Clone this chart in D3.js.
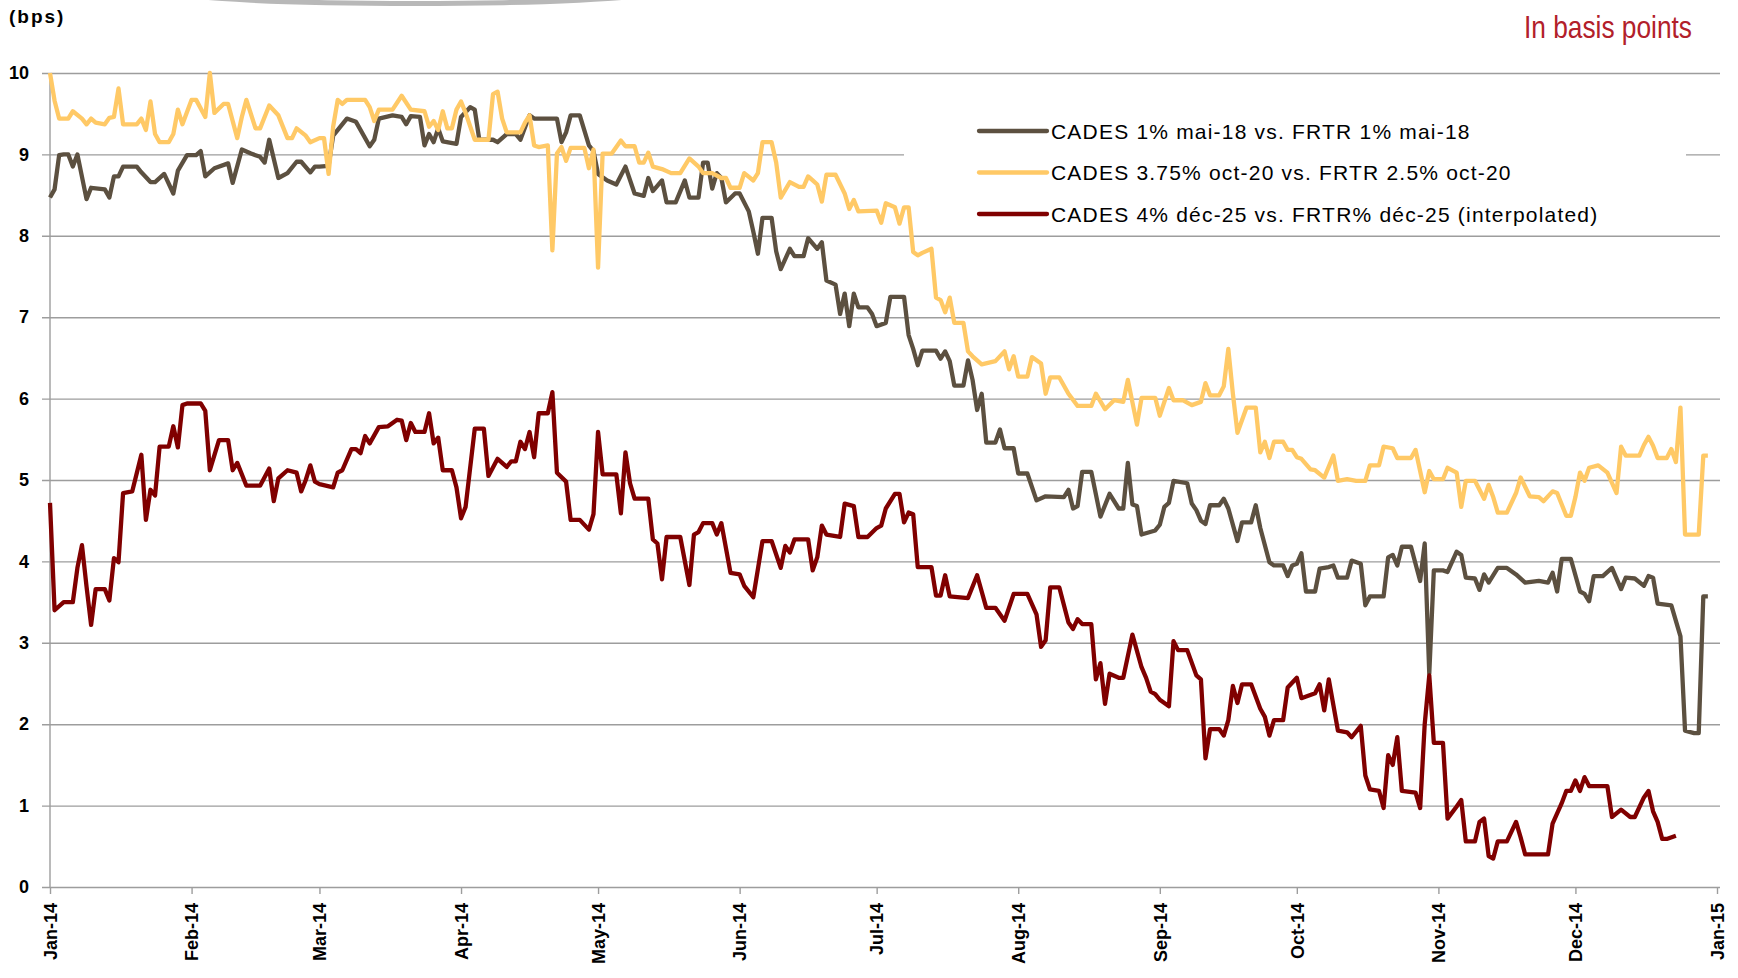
<!DOCTYPE html>
<html>
<head>
<meta charset="utf-8">
<script src="https://cdn.jsdelivr.net/npm/d3@7"></script>
<style>
  body { margin: 0; background: #ffffff; }
  svg  { display: block; font-family: "Liberation Sans", Arial, sans-serif; }
</style>
</head>
<body>
<div id="chart"></div>
<script>
/////////////////////////////////////////////////////
/////////////////////// Data ////////////////////////
/////////////////////////////////////////////////////

// Each point is [day of 2014 (0 = 1 Jan), spread in bps].
const spreadMai18 = [
  [0,8.47],[1,8.57],[2,8.99],[3,9.0],[4,9.0],[5,8.85],[6,9.0],[8,8.45],[9,8.59],[12,8.57],[13,8.47],[14,8.73],
  [15,8.73],[16,8.85],[19,8.85],[20,8.78],[22,8.66],[23,8.66],[25,8.76],[27,8.52],[28,8.8],[30,8.99],[32,8.99],
  [33,9.04],[34,8.73],[36,8.83],[39,8.89],[40,8.65],[42,9.06],[44,9.01],[46,8.97],[47,8.9],[48,9.18],[50,8.71],
  [52,8.77],[54,8.91],[55,8.91],[57,8.78],[58,8.85],[59,8.85],[61,8.86],[62,9.23],[65,9.44],[67,9.4],[70,9.1],
  [71,9.18],[72,9.44],[75,9.48],[77,9.46],[78,9.37],[79,9.47],[81,9.46],[82,9.11],[83,9.25],[84,9.15],[85,9.32],
  [86,9.16],[89,9.13],[90,9.46],[92,9.58],[93,9.55],[94,9.18],[97,9.18],[98,9.15],[100,9.25],[102,9.25],[103,9.18],
  [105,9.48],[106,9.44],[111,9.44],[112,9.15],[113,9.27],[114,9.48],[116,9.48],[118,9.11],[119,9.04],[120,8.76],
  [122,8.68],[124,8.63],[126,8.85],[128,8.52],[130,8.49],[131,8.71],[132,8.55],[134,8.68],[135,8.41],[137,8.41],
  [139,8.68],[140,8.47],[142,8.47],[143,8.9],[144,8.9],[145,8.58],[146,8.77],[147,8.71],[148,8.41],[150,8.52],
  [151,8.52],[153,8.3],[154,8.05],[155,7.78],[156,8.22],[158,8.22],[159,7.81],[160,7.59],[162,7.84],[163,7.75],
  [165,7.75],[166,7.97],[168,7.84],[169,7.92],[170,7.45],[172,7.4],[173,7.04],[174,7.29],[175,6.89],[176,7.29],
  [177,7.12],[179,7.12],[180,7.04],[181,6.89],[183,6.93],[184,7.25],[187,7.25],[188,6.78],[189,6.61],[190,6.41],
  [191,6.59],[194,6.59],[195,6.49],[196,6.58],[197,6.46],[198,6.16],[200,6.16],[201,6.47],[202,6.23],[203,5.86],
  [204,6.06],[205,5.46],[207,5.46],[208,5.62],[209,5.39],[211,5.39],[212,5.08],[214,5.08],[216,4.75],[218,4.8],
  [222,4.79],[223,4.88],[224,4.65],[225,4.68],[226,5.1],[228,5.1],[230,4.55],[232,4.83],[234,4.65],[235,4.65],
  [236,5.21],[237,4.7],[238,4.68],[239,4.33],[242,4.38],[243,4.45],[244,4.67],[245,4.72],[246,4.99],[249,4.96],
  [250,4.71],[251,4.63],[252,4.5],[253,4.46],[254,4.69],[256,4.69],[257,4.77],[258,4.65],[260,4.25],[261,4.48],
  [263,4.48],[264,4.69],[265,4.41],[267,3.99],[268,3.95],[270,3.95],[271,3.82],[272,3.95],[273,3.97],[274,4.1],
  [275,3.63],[277,3.63],[278,3.91],[280,3.93],[281,3.95],[282,3.8],[284,3.8],[285,4.01],[287,3.97],[288,3.46],
  [289,3.57],[292,3.57],[293,4.05],[294,4.08],[295,3.95],[296,4.18],[298,4.18],[300,3.76],[301,4.22],[302,2.62],
  [303,3.89],[305,3.89],[306,3.87],[308,4.12],[309,4.08],[310,3.8],[312,3.79],[313,3.65],[314,3.84],[315,3.74],
  [317,3.92],[319,3.92],[321,3.84],[323,3.74],[326,3.76],[328,3.74],[329,3.86],[330,3.63],[331,4.03],[333,4.03],
  [335,3.63],[336,3.6],[337,3.51],[338,3.82],[340,3.82],[342,3.92],[344,3.66],[345,3.8],[347,3.79],[349,3.7],
  [350,3.82],[351,3.8],[352,3.48],[355,3.46],[356,3.27],[357,3.08],[358,1.92],[360,1.89],[361,1.89],[362,3.57],
  [363,3.57]
];

const spreadOct20 = [
  [0,10.0],[1,9.66],[2,9.44],[4,9.44],[5,9.53],[7,9.44],[8,9.37],[9,9.44],[10,9.39],[12,9.37],[13,9.45],[14,9.46],
  [15,9.81],[16,9.37],[19,9.37],[20,9.44],[21,9.3],[22,9.65],[23,9.25],[24,9.15],[26,9.15],[27,9.25],[28,9.55],
  [29,9.37],[31,9.67],[32,9.67],[34,9.46],[35,10.0],[36,9.51],[38,9.62],[39,9.62],[41,9.2],[42,9.46],[43,9.67],
  [45,9.32],[46,9.32],[48,9.6],[50,9.48],[52,9.2],[53,9.2],[54,9.32],[56,9.23],[57,9.15],[59,9.2],[60,9.2],
  [61,8.76],[62,9.34],[63,9.67],[64,9.62],[65,9.67],[69,9.67],[70,9.58],[71,9.41],[72,9.55],[75,9.55],[77,9.72],
  [79,9.55],[82,9.53],[83,9.34],[84,9.41],[85,9.3],[86,9.53],[87,9.32],[88,9.32],[89,9.55],[90,9.65],[91,9.51],
  [93,9.18],[96,9.18],[97,9.74],[98,9.77],[99,9.44],[100,9.27],[103,9.27],[104,9.39],[105,9.48],[106,9.11],
  [107,9.09],[109,9.11],[110,7.82],[111,9.01],[112,9.09],[113,8.92],[114,9.08],[117,9.08],[118,8.83],[119,9.06],
  [120,7.61],[121,9.01],[123,9.01],[125,9.17],[126,9.1],[128,9.1],[129,8.9],[130,8.9],[131,9.02],[132,8.85],
  [134,8.82],[136,8.77],[138,8.77],[140,8.95],[142,8.85],[143,8.77],[145,8.77],[147,8.71],[148,8.71],[149,8.59],
  [151,8.59],[152,8.77],[154,8.68],[155,8.77],[156,9.15],[158,9.15],[159,8.9],[160,8.47],[162,8.66],[164,8.6],
  [165,8.6],[166,8.73],[167,8.68],[168,8.63],[169,8.42],[170,8.75],[172,8.75],[174,8.52],[175,8.33],[176,8.44],
  [177,8.3],[181,8.31],[182,8.16],[183,8.4],[185,8.35],[186,8.15],[187,8.35],[188,8.35],[189,7.8],[190,7.76],
  [191,7.79],[193,7.84],[194,7.24],[195,7.21],[196,7.06],[197,7.24],[198,6.93],[200,6.93],[201,6.58],[202,6.52],
  [204,6.42],[207,6.46],[209,6.58],[210,6.36],[211,6.52],[212,6.27],[214,6.27],[215,6.51],[217,6.43],[218,6.06],
  [219,6.26],[221,6.26],[223,6.06],[225,5.91],[228,5.91],[229,6.06],[231,5.87],[233,5.98],[235,5.96],[236,6.23],
  [238,5.68],[239,6.01],[242,6.01],[243,5.79],[245,6.13],[246,5.98],[248,5.98],[250,5.92],[252,5.96],[253,6.19],
  [254,6.04],[256,6.04],[257,6.15],[258,6.61],[259,6.06],[260,5.58],[262,5.89],[264,5.89],[265,5.34],[266,5.47],
  [267,5.27],[268,5.47],[270,5.47],[271,5.37],[272,5.37],[273,5.28],[274,5.26],[276,5.13],[277,5.12],[279,5.03],
  [281,5.3],[282,4.99],[284,5.01],[286,4.99],[288,4.99],[289,5.18],[291,5.18],[292,5.41],[294,5.39],[295,5.27],
  [298,5.27],[299,5.37],[300,5.11],[301,4.85],[302,5.11],[303,5.01],[305,5.01],[306,5.15],[308,5.09],[309,4.67],
  [310,4.99],[312,4.99],[313,4.88],[314,4.77],[315,4.94],[316,4.79],[317,4.6],[319,4.6],[321,4.84],[322,5.03],
  [324,4.8],[326,4.79],[327,4.74],[329,4.86],[330,4.84],[332,4.56],[333,4.56],[334,4.79],[335,5.09],[336,4.99],
  [337,5.15],[339,5.18],[341,5.09],[343,4.84],[344,5.41],[345,5.3],[348,5.3],[349,5.43],[350,5.53],[351,5.42],
  [352,5.27],[354,5.27],[355,5.38],[356,5.22],[357,5.89],[358,4.33],[361,4.33],[362,5.3],[363,5.3]
];

const spreadDec25 = [
  [0,4.72],[1,3.4],[3,3.5],[5,3.5],[6,3.92],[7,4.2],[8,3.69],[9,3.22],[10,3.66],[12,3.66],[13,3.52],[14,4.04],
  [15,3.99],[16,4.84],[18,4.86],[20,5.31],[21,4.51],[22,4.88],[23,4.81],[24,5.41],[26,5.41],[27,5.66],[28,5.4],
  [29,5.92],[30,5.94],[33,5.94],[34,5.85],[35,5.12],[37,5.49],[39,5.49],[40,5.12],[41,5.21],[43,4.93],[46,4.93],
  [48,5.14],[49,4.74],[50,5.02],[52,5.12],[54,5.09],[55,4.86],[56,5.0],[57,5.18],[58,4.98],[59,4.95],[62,4.91],
  [63,5.09],[64,5.12],[66,5.38],[67,5.38],[68,5.33],[69,5.54],[70,5.45],[72,5.65],[74,5.66],[76,5.74],[77,5.73],
  [78,5.49],[79,5.7],[80,5.59],[82,5.59],[83,5.82],[84,5.45],[85,5.52],[86,5.12],[88,5.12],[89,4.91],[90,4.53],
  [91,4.67],[93,5.63],[95,5.63],[96,5.05],[98,5.26],[100,5.16],[101,5.23],[102,5.23],[103,5.47],[104,5.38],
  [105,5.59],[106,5.28],[107,5.82],[109,5.82],[110,6.08],[111,5.09],[113,4.98],[114,4.51],[116,4.51],[118,4.39],
  [119,4.58],[120,5.59],[121,5.07],[124,5.07],[125,4.59],[126,5.34],[127,4.96],[128,4.77],[131,4.77],[132,4.27],
  [133,4.22],[134,3.78],[135,4.3],[138,4.3],[140,3.71],[141,4.33],[142,4.36],[143,4.47],[145,4.47],[146,4.33],
  [147,4.47],[149,3.86],[151,3.84],[152,3.7],[154,3.56],[156,4.25],[158,4.25],[160,3.92],[161,4.19],[162,4.11],
  [163,4.27],[166,4.27],[167,3.89],[168,4.05],[169,4.44],[170,4.33],[173,4.3],[174,4.71],[176,4.68],[177,4.3],
  [179,4.3],[181,4.41],[182,4.44],[183,4.65],[185,4.83],[186,4.83],[187,4.48],[188,4.6],[189,4.58],[190,3.93],
  [193,3.93],[194,3.58],[195,3.58],[196,3.83],[197,3.57],[201,3.55],[203,3.83],[205,3.43],[207,3.43],[209,3.27],
  [211,3.6],[214,3.6],[216,3.35],[217,2.95],[218,3.03],[219,3.68],[221,3.68],[223,3.25],[224,3.17],[225,3.29],
  [226,3.23],[228,3.23],[229,2.55],[230,2.75],[231,2.25],[232,2.62],[234,2.57],[235,2.57],[237,3.1],[239,2.7],
  [240,2.57],[241,2.4],[242,2.37],[243,2.3],[244,2.26],[245,2.22],[246,3.02],[247,2.91],[249,2.91],[251,2.6],
  [252,2.55],[253,1.58],[254,1.94],[256,1.94],[257,1.86],[258,2.05],[259,2.47],[260,2.26],[261,2.49],[263,2.49],
  [265,2.19],[266,2.09],[267,1.86],[268,2.05],[270,2.05],[271,2.45],[273,2.57],[274,2.32],[277,2.38],[278,2.49],
  [279,2.17],[280,2.55],[282,1.92],[284,1.9],[285,1.84],[287,1.98],[288,1.37],[289,1.2],[291,1.18],[292,0.97],
  [293,1.62],[294,1.5],[295,1.84],[296,1.18],[299,1.16],[300,0.97],[301,2.0],[302,2.6],[303,1.77],[305,1.77],
  [306,0.84],[308,0.99],[309,1.07],[310,0.56],[312,0.56],[313,0.8],[314,0.84],[315,0.38],[316,0.35],[317,0.56],
  [319,0.56],[321,0.8],[322,0.61],[323,0.4],[328,0.4],[329,0.78],[331,1.03],[332,1.18],[333,1.18],[334,1.31],
  [335,1.18],[336,1.35],[337,1.24],[341,1.24],[342,0.86],[344,0.95],[346,0.86],[347,0.86],[349,1.1],[350,1.18],
  [351,0.93],[352,0.8],[353,0.59],[354,0.59],[356,0.63]
];

const seriesNames = [
  "CADES 1% mai-18 vs. FRTR 1% mai-18",
  "CADES 3.75% oct-20 vs. FRTR 2.5% oct-20",
  "CADES 4% déc-25 vs. FRTR% déc-25 (interpolated)"
];
const yTicks = [0, 1, 2, 3, 4, 5, 6, 7, 8, 9, 10];

/////////////////////////////////////////////////////
///////////////////// Constants /////////////////////
/////////////////////////////////////////////////////

const width  = 1738;
const height = 978;

// Plot frame (Excel-like layout)
const plot = { left: 50, right: 1717, top: 73, bottom: 887 };

const colors     = ["#5c5040", "#ffc966", "#800000"];
const grid_color = "#9d9d9d";
const text_color = "#000000";

const start = new Date(2014, 0, 1);
const end   = new Date(2015, 0, 1);

const x = d3.scaleTime().domain([start, end]).range([plot.left, plot.right]);
const y = d3.scaleLinear().domain([0, 10]).range([plot.bottom, plot.top]);

const svg = d3.select("#chart")
  .append("svg")
  .attr("width", width)
  .attr("height", height);

// Decorative grey swoosh at the very top (slide template)
const swoosh = svg.append("g");
swoosh.append("ellipse")
  .attr("cx", 415).attr("cy", -5).attr("rx", 232).attr("ry", 11)
  .attr("fill", "#b8b8b8");
swoosh.append("ellipse")
  .attr("cx", 415).attr("cy", -10).attr("rx", 230).attr("ry", 11)
  .attr("fill", "#ffffff");

/////////////////////////////////////////////////////
/////////////////////// Axes ////////////////////////
/////////////////////////////////////////////////////

// Horizontal gridlines (they stick out a little left of the axis, like tick marks)
const yAxis = svg.append("g")
  .attr("transform", `translate(${plot.left - 8},0)`)
  .call(d3.axisLeft(y)
    .tickValues(yTicks)
    .tickFormat(d3.format("d"))
    .tickSizeInner(-(plot.right + 3 - plot.left + 8))
    .tickSizeOuter(0)
    .tickPadding(13));

yAxis.select(".domain").remove();
yAxis.selectAll(".tick line")
  .attr("stroke", grid_color)
  .attr("stroke-width", 1.4);
yAxis.selectAll(".tick text")
  .attr("fill", text_color)
  .style("font-size", "18px")
  .style("font-weight", "bold");

// Vertical axis line
svg.append("line")
  .attr("x1", plot.left).attr("x2", plot.left)
  .attr("y1", plot.top).attr("y2", plot.bottom)
  .attr("stroke", grid_color)
  .attr("stroke-width", 1.4);

// Month axis
const xAxis = svg.append("g")
  .attr("transform", `translate(0,${plot.bottom})`)
  .call(d3.axisBottom(x)
    .ticks(d3.timeMonth.every(1))
    .tickFormat(d3.timeFormat("%b-%y"))
    .tickSizeInner(7)
    .tickSizeOuter(0));

xAxis.select(".domain").remove();
xAxis.selectAll(".tick line")
  .attr("stroke", grid_color)
  .attr("stroke-width", 1.4);
xAxis.selectAll(".tick text")
  .attr("fill", text_color)
  .attr("text-anchor", "end")
  .attr("transform", "translate(0,16) rotate(-90)")
  .attr("x", 0).attr("y", 0).attr("dy", "0.35em")
  .style("font-size", "18px")
  .style("font-weight", "bold");

/////////////////////////////////////////////////////
////////////////////// Legend ///////////////////////
/////////////////////////////////////////////////////

const legend = svg.append("g")
  .attr("transform", "translate(904,97)");

legend.append("rect")
  .attr("width", 782).attr("height", 132)
  .attr("fill", "#ffffff");

const legendRows = legend.selectAll("g.row")
  .data(seriesNames)
  .enter().append("g")
  .attr("class", "row")
  .attr("transform", (d, i) => `translate(0,${34 + i * 41.5})`);

legendRows.append("line")
  .attr("x1", 75).attr("x2", 143)
  .attr("stroke", (d, i) => colors[i])
  .attr("stroke-width", 4.3)
  .attr("stroke-linecap", "round");

legendRows.append("text")
  .attr("x", 147)
  .attr("dy", "0.36em")
  .attr("fill", text_color)
  .style("font-size", "21px")
  .style("letter-spacing", "1.2px")
  .text(d => d);

/////////////////////////////////////////////////////
////////////////////// Series ///////////////////////
/////////////////////////////////////////////////////

const line = d3.line()
  .x(d => x(d3.timeDay.offset(start, d[0])))
  .y(d => y(d[1]));

[spreadMai18, spreadOct20, spreadDec25].forEach((series, i) => {
  svg.append("path")
    .datum(series)
    .attr("fill", "none")
    .attr("stroke", colors[i])
    .attr("stroke-width", 4.3)
    .attr("stroke-linejoin", "round")
    .attr("d", line);
});

/////////////////////////////////////////////////////
////////////////////// Titles ///////////////////////
/////////////////////////////////////////////////////

svg.append("text")
  .attr("x", 9).attr("y", 23)
  .attr("fill", text_color)
  .style("font-size", "19px")
  .style("font-weight", "bold")
  .style("letter-spacing", "2px")
  .text("(bps)");

// The slide uses a narrow face; squeeze the regular one to the same width.
svg.append("text")
  .attr("x", 1524).attr("y", 38)
  .attr("fill", "#b2202a")
  .attr("textLength", 168)
  .attr("lengthAdjust", "spacingAndGlyphs")
  .style("font-size", "32px")
  .text("In basis points");
</script>
</body>
</html>
